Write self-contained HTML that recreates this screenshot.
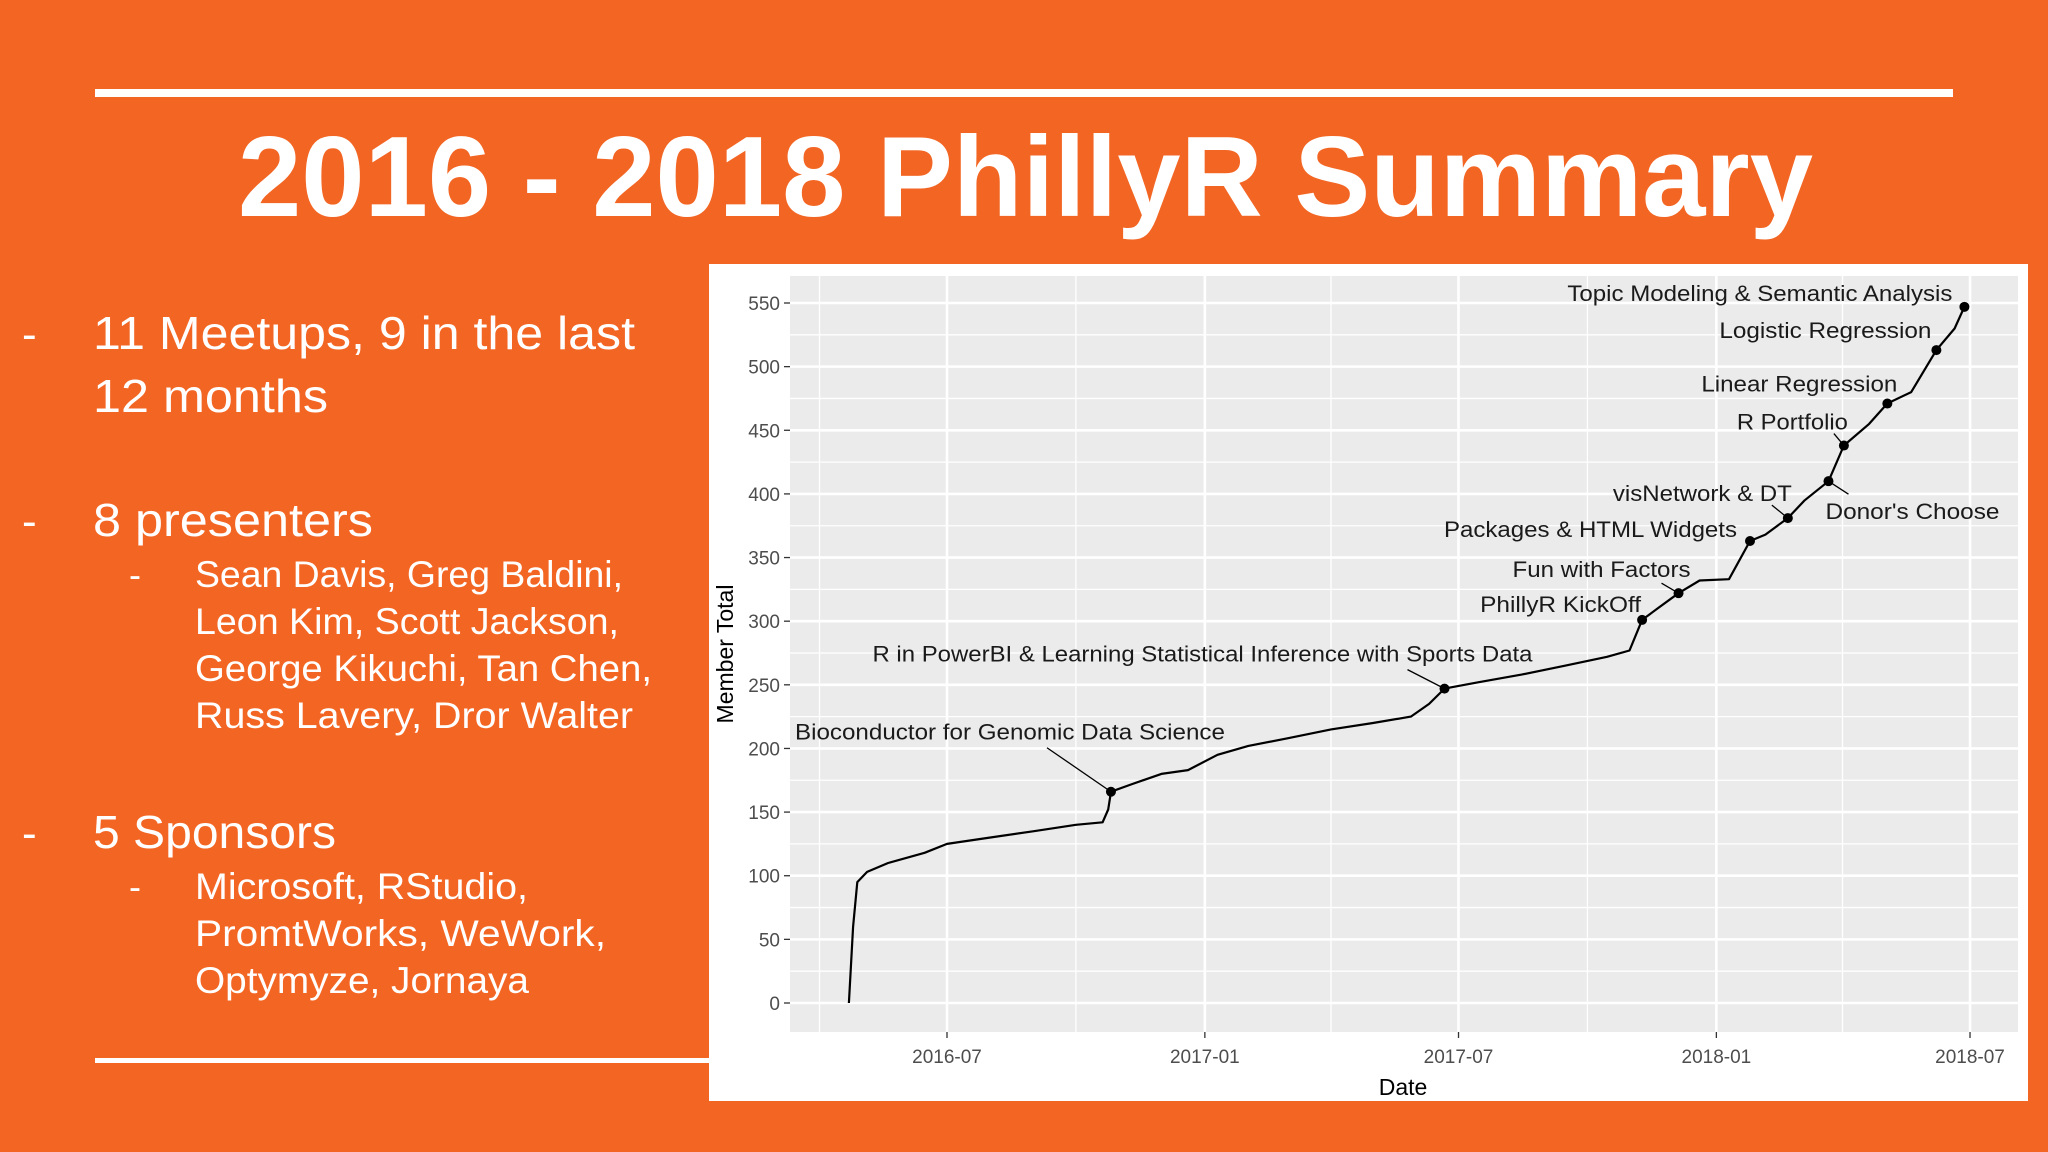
<!DOCTYPE html>
<html><head><meta charset="utf-8"><style>
html,body{margin:0;padding:0;background:#f36523;}
svg{display:block;}
</style></head><body>
<svg id="page" width="2048" height="1152" viewBox="0 0 2048 1152" xmlns="http://www.w3.org/2000/svg" font-family="Liberation Sans, sans-serif">
<rect x="0" y="0" width="2048" height="1152" fill="#f36523"/>
<rect x="95" y="89" width="1858" height="8" fill="#fff"/>
<text x="238" y="216" font-size="114" font-weight="bold" fill="#fff" textLength="1575" lengthAdjust="spacingAndGlyphs">2016 - 2018 PhillyR Summary</text>
<g fill="#fff">
<text x="22" y="349" font-size="44">-</text>
<text x="93" y="349" font-size="46" textLength="542" lengthAdjust="spacingAndGlyphs">11 Meetups, 9 in the last</text>
<text x="93" y="412" font-size="46" textLength="235" lengthAdjust="spacingAndGlyphs">12 months</text>
<text x="22" y="536" font-size="44">-</text>
<text x="93" y="536" font-size="46" textLength="280" lengthAdjust="spacingAndGlyphs">8 presenters</text>
<text x="129" y="587" font-size="36">-</text>
<text x="195" y="587" font-size="37" textLength="428" lengthAdjust="spacingAndGlyphs">Sean Davis, Greg Baldini,</text>
<text x="195" y="634" font-size="37" textLength="424" lengthAdjust="spacingAndGlyphs">Leon Kim, Scott Jackson,</text>
<text x="195" y="681" font-size="37" textLength="457" lengthAdjust="spacingAndGlyphs">George Kikuchi, Tan Chen,</text>
<text x="195" y="728" font-size="37" textLength="438" lengthAdjust="spacingAndGlyphs">Russ Lavery, Dror Walter</text>
<text x="22" y="848" font-size="44">-</text>
<text x="93" y="848" font-size="46" textLength="243" lengthAdjust="spacingAndGlyphs">5 Sponsors</text>
<text x="129" y="899" font-size="36">-</text>
<text x="195" y="899" font-size="37" textLength="333" lengthAdjust="spacingAndGlyphs">Microsoft, RStudio,</text>
<text x="195" y="946" font-size="37" textLength="411" lengthAdjust="spacingAndGlyphs">PromtWorks, WeWork,</text>
<text x="195" y="993" font-size="37" textLength="334" lengthAdjust="spacingAndGlyphs">Optymyze, Jornaya</text>
</g>
<rect x="95" y="1058" width="620" height="5" fill="#fff"/>
<rect x="709" y="264" width="1319" height="837" fill="#fff"/>
<rect x="790" y="276" width="1228" height="756" fill="#ebebeb"/>
<g id="grid"></g>
<g id="axes"></g>
<g id="series"></g>
<g id="labels"></g>
<text x="1403" y="1095" font-size="23" text-anchor="middle" fill="#000">Date</text>
<text transform="translate(733,654) rotate(-90)" font-size="23" text-anchor="middle" fill="#000">Member Total</text>
</svg>
<script>
const xTickLabels = ["2016-07","2017-01","2017-07","2018-01","2018-07"];
const xMinorDates = ["2016-04-01","2016-10-01","2017-04-01","2017-10-01","2018-04-01"];
const yTicks = [0,50,100,150,200,250,300,350,400,450,500,550];
const seriesDates = ["2016-04-22","2016-04-24","2016-04-25","2016-04-28","2016-05-05","2016-05-20","2016-06-15","2016-07-01","2016-08-01","2016-09-01","2016-10-01","2016-10-20","2016-10-24","2016-10-26","2016-11-10","2016-12-01","2016-12-20","2017-01-10","2017-02-01","2017-03-01","2017-04-01","2017-05-01","2017-05-28","2017-06-10","2017-06-21","2017-07-15","2017-08-15","2017-09-15","2017-10-15","2017-10-31","2017-11-09","2017-11-20","2017-12-05","2017-12-20","2018-01-10","2018-01-25","2018-02-05","2018-02-21","2018-03-05","2018-03-22","2018-04-02","2018-04-20","2018-05-03","2018-05-20","2018-06-07","2018-06-20","2018-06-27"];
const seriesValues = [0,40,60,95,103,110,118,125,130,135,140,142,152,166,172,180,183,195,202,208,215,220,225,235,247,252,258,265,272,277,301,310,322,332,333,363,368,381,395,410,438,455,471,480,513,530,547];
const eventNames = ["Bioconductor for Genomic Data Science","R in PowerBI & Learning Statistical Inference with Sports Data","PhillyR KickOff","Fun with Factors","Packages & HTML Widgets","visNetwork & DT","Donor's Choose","R Portfolio","Linear Regression","Logistic Regression","Topic Modeling & Semantic Analysis"];
const eventDates = ["2016-10-26","2017-06-21","2017-11-09","2017-12-05","2018-01-25","2018-02-21","2018-03-22","2018-04-02","2018-05-03","2018-06-07","2018-06-27"];
const eventValues = [166,247,301,322,363,381,410,438,471,513,547];
// label layout (pixel offsets from point) — styling, not data
const labelLayout = [
 {dx:114,dy:-60,w:430,anchor:"end",arrow:[-64,-44]},
 {dx:88,dy:-35,w:660,anchor:"end",arrow:[-37,-19]},
 {dx:-1,dy:-16,w:161,anchor:"end"},
 {dx:12,dy:-24,w:178,anchor:"end",arrow:[-17,-10]},
 {dx:-13,dy:-12,w:293,anchor:"end"},
 {dx:4,dy:-25,w:179,anchor:"end",arrow:[-16,-13]},
 {dx:-3,dy:30,w:174,anchor:"start",arrow:[20,13]},
 {dx:4,dy:-24,w:111,anchor:"end",arrow:[-10,-12]},
 {dx:10,dy:-20,w:196,anchor:"end"},
 {dx:-5,dy:-20,w:212,anchor:"end"},
 {dx:-12,dy:-14,w:385,anchor:"end"}
];
const NS="http://www.w3.org/2000/svg";
const D0=Date.UTC(2016,6,1), PXD=1.4014, X0=947;
function days(s){const p=s.split("-").map(Number);return (Date.UTC(p[0],p[1]-1,p[2]||1)-D0)/864e5;}
function xs(s){return X0+days(s)*PXD;}
function ys(v){return 1003-v*(700/550);}
function mk(t,a,parent){const e=document.createElementNS(NS,t);for(const k in a)e.setAttribute(k,a[k]);parent.appendChild(e);return e;}
const grid=document.getElementById('grid'), axes=document.getElementById('axes'), series=document.getElementById('series'), labels=document.getElementById('labels');
// minor y grid
for(let i=0;i<yTicks.length-1;i++){const v=(yTicks[i]+yTicks[i+1])/2;
 const l=mk('line',{x1:790,x2:2018,y1:ys(v),y2:ys(v),stroke:'#fff','stroke-width':1.3},grid);
 
 }
xMinorDates.forEach(d=>{const l=mk('line',{x1:xs(d),x2:xs(d),y1:276,y2:1032,stroke:'#fff','stroke-width':1.3},grid);
 
 });
yTicks.forEach(v=>{const l=mk('line',{x1:790,x2:2018,y1:ys(v),y2:ys(v),stroke:'#fff','stroke-width':2.6},grid);
 
 
 const tk=mk('line',{x1:784,x2:790,y1:ys(v),y2:ys(v),stroke:'#333','stroke-width':1.3},axes);
 
 
 const t=mk('text',{x:780,y:ys(v)+7,'font-size':19,'text-anchor':'end',fill:'#4d4d4d'},axes);
 
 
 t.textContent=v;});
xTickLabels.forEach(d=>{const x=xs(d+"-01");
 const l=mk('line',{x1:x,x2:x,y1:276,y2:1032,stroke:'#fff','stroke-width':2.6},grid);
 
 
 const tk=mk('line',{x1:x,x2:x,y1:1032,y2:1038,stroke:'#333','stroke-width':1.3},axes);
 
 
 const t=mk('text',{x:x,y:1063,'font-size':19,'text-anchor':'middle',fill:'#4d4d4d'},axes);
 
 
 t.textContent=d;});
const pts=seriesDates.map((d,i)=>xs(d).toFixed(1)+","+ys(seriesValues[i]).toFixed(1)).join(" ");
const pl=mk('polyline',{points:pts,fill:'none',stroke:'#000','stroke-width':2.2,'stroke-linejoin':'round'},series);


eventNames.forEach((n,i)=>{const px=xs(eventDates[i]),py=ys(eventValues[i]),L=labelLayout[i];
 if(L.arrow){const a=mk('line',{x1:px+L.arrow[0],y1:py+L.arrow[1],x2:px,y2:py,stroke:'#000','stroke-width':1.3},labels);
  
  }
 const c=mk('circle',{cx:px,cy:py,r:5,fill:'#000'},labels);
 
 
 const t=mk('text',{x:px+L.dx,y:py+L.dy+8,'font-size':22,'text-anchor':L.anchor,fill:'#1a1a1a',textLength:L.w,lengthAdjust:'spacingAndGlyphs'},labels);
 
 
 t.textContent=n;});
</script>
</body></html>
